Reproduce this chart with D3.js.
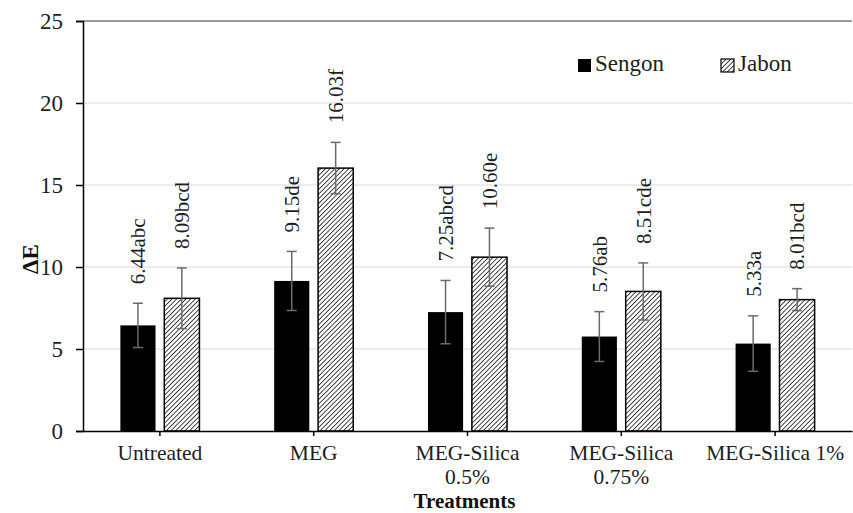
<!DOCTYPE html>
<html>
<head>
<meta charset="utf-8">
<script src="https://cdn.jsdelivr.net/npm/d3@7"></script>
<style>
  html, body { margin: 0; padding: 0; background: #fff; }
  svg { display: block; }
  svg text { font-family: "Liberation Serif", "Times New Roman", Times, serif; }
</style>
</head>
<body>
<svg id="chart" width="853" height="513" font-family="Liberation Serif, serif"></svg>
<script>
// Colour change (ΔE) by treatment for two wood species
const categories = ["Untreated", "MEG", "MEG-Silica 0.5%", "MEG-Silica 0.75%", "MEG-Silica 1%"];
const categoryLines = [["Untreated"], ["MEG"], ["MEG-Silica", "0.5%"], ["MEG-Silica", "0.75%"], ["MEG-Silica 1%"]];
const seriesNames = ["Sengon", "Jabon"];
const sengonValues = [6.44, 9.15, 7.25, 5.76, 5.33];
const jabonValues = [8.09, 16.03, 10.60, 8.51, 8.01];
const sengonErrors = [1.35, 1.80, 1.93, 1.52, 1.69];
const jabonErrors = [1.85, 1.57, 1.77, 1.74, 0.67];
const sengonLetters = ["abc", "de", "abcd", "ab", "a"];
const jabonLetters = ["bcd", "f", "e", "cde", "bcd"];
const yTicks = [0, 5, 10, 15, 20, 25];

const FONT = "Liberation Serif";
const svg = d3.select("#chart");
const plotLeft = 83, plotRight = 852, plotTop = 21, plotBottom = 431;

const rows = categories.map((c, i) => ({
  category: c,
  lines: categoryLines[i],
  bars: [
    { series: "Sengon", value: sengonValues[i], err: sengonErrors[i], letters: sengonLetters[i] },
    { series: "Jabon", value: jabonValues[i], err: jabonErrors[i], letters: jabonLetters[i] }
  ]
}));

const x0 = d3.scaleBand().domain(categories).range([plotLeft, plotRight])
  .paddingInner(0.486).paddingOuter(0.243);
const x1 = d3.scaleBand().domain(seriesNames).range([0, x0.bandwidth()]).paddingInner(0.2);
const y = d3.scaleLinear().domain([0, 25]).range([plotBottom, plotTop]);

// diagonal hatch for Jabon
const defs = svg.append("defs");
const pat = defs.append("pattern")
  .attr("id", "hatch").attr("patternUnits", "userSpaceOnUse")
  .attr("width", 3.3).attr("height", 3.3)
  .attr("patternTransform", "rotate(45)");
pat.append("rect").attr("width", 3.3).attr("height", 3.3).attr("fill", "#fff");
pat.append("line").attr("x1", 0).attr("y1", 0).attr("x2", 0).attr("y2", 3.3)
  .attr("stroke", "#262626").attr("stroke-width", 1.7);

const fillFor = s => s === "Sengon" ? "#000" : "url(#hatch)";

// gridlines
svg.append("g").selectAll("line")
  .data(yTicks.filter(t => t > 0 && t < 25))
  .join("line")
  .attr("x1", plotLeft).attr("x2", plotRight)
  .attr("y1", d => y(d)).attr("y2", d => y(d))
  .attr("stroke", "#d9d9d9").attr("stroke-width", 1);

// top border line
svg.append("line")
  .attr("x1", plotLeft).attr("x2", plotRight)
  .attr("y1", y(25)).attr("y2", y(25))
  .attr("stroke", "#3a3a3a").attr("stroke-width", 1.2);

// bars
const groups = svg.append("g").selectAll("g")
  .data(rows).join("g")
  .attr("transform", d => `translate(${x0(d.category)},0)`);

groups.selectAll("rect")
  .data(d => d.bars).join("rect")
  .attr("x", d => x1(d.series))
  .attr("y", d => y(d.value))
  .attr("width", x1.bandwidth())
  .attr("height", d => y(0) - y(d.value))
  .attr("fill", d => fillFor(d.series))
  .attr("stroke", "#000")
  .attr("stroke-width", d => d.series === "Jabon" ? 1.5 : 0);

// error bars
const eb = groups.selectAll("g.err")
  .data(d => d.bars).join("g").attr("class", "err")
  .attr("stroke", "#6b6b6b").attr("stroke-width", 1.5);
const cx = d => x1(d.series) + x1.bandwidth() / 2;
eb.append("line")
  .attr("x1", cx).attr("x2", cx)
  .attr("y1", d => y(d.value + d.err)).attr("y2", d => y(d.value - d.err));
eb.append("line")
  .attr("x1", d => cx(d) - 5).attr("x2", d => cx(d) + 5)
  .attr("y1", d => y(d.value + d.err)).attr("y2", d => y(d.value + d.err));
eb.append("line")
  .attr("x1", d => cx(d) - 5).attr("x2", d => cx(d) + 5)
  .attr("y1", d => y(d.value - d.err)).attr("y2", d => y(d.value - d.err));

// value labels with significance letters
groups.selectAll("text.val")
  .data(d => d.bars).join("text").attr("class", "val")
  .attr("transform", d => `translate(${cx(d)},${y(d.value + d.err) - 19}) rotate(-90)`)
  .attr("dy", "0.35em")
  .attr("text-anchor", "start")
  .attr("font-family", FONT)
  .attr("font-size", 21)
  .attr("fill", "#1e1e1e")
  .text(d => d.value.toFixed(2) + d.letters);

// y axis
const yAxis = svg.append("g")
  .attr("transform", `translate(${plotLeft},0)`)
  .call(d3.axisLeft(y).tickValues(yTicks).tickSize(7).tickPadding(13).tickFormat(d3.format("d")));
yAxis.attr("font-family", FONT);
yAxis.select(".domain").attr("stroke", "#000").attr("stroke-width", 1.5);
yAxis.selectAll(".tick line").attr("stroke", "#000").attr("stroke-width", 1.5);
yAxis.selectAll(".tick text")
  .attr("font-family", FONT)
  .attr("font-size", 23).attr("fill", "#1e1e1e");

// x axis
const xAxis = svg.append("g")
  .attr("transform", `translate(0,${plotBottom})`)
  .call(d3.axisBottom(x0).tickSize(5).tickSizeOuter(0).tickFormat(""));
xAxis.select(".domain").attr("stroke", "#000").attr("stroke-width", 1.5);
xAxis.selectAll(".tick line").attr("stroke", "#000").attr("stroke-width", 1.5);

// category labels (multi-line)
const catText = svg.append("g").selectAll("text")
  .data(rows).join("text")
  .attr("x", d => x0(d.category) + x0.bandwidth() / 2)
  .attr("y", 460)
  .attr("text-anchor", "middle")
  .attr("font-family", FONT)
  .attr("font-size", 21.5)
  .attr("fill", "#1e1e1e");
catText.selectAll("tspan")
  .data(d => d.lines.map(l => ({ l, x: x0(d.category) + x0.bandwidth() / 2 })))
  .join("tspan")
  .attr("x", t => t.x)
  .attr("dy", (t, i) => i === 0 ? 0 : 24)
  .text(t => t.l);

// axis titles
svg.append("text")
  .attr("x", (plotLeft + plotRight) / 2 - 3).attr("y", 507.5)
  .attr("text-anchor", "middle")
  .attr("font-family", FONT)
  .attr("font-size", 21).attr("font-weight", "bold").attr("fill", "#111")
  .text("Treatments");

svg.append("text")
  .attr("transform", `translate(38,259) rotate(-90)`)
  .attr("text-anchor", "middle")
  .attr("font-family", FONT)
  .attr("font-size", 23).attr("font-weight", "bold").attr("fill", "#111")
  .text("ΔE");

// legend
const legend = svg.append("g").selectAll("g")
  .data(seriesNames).join("g")
  .attr("transform", (d, i) => `translate(${578 + i * 143},59)`);
legend.append("rect")
  .attr("width", 13).attr("height", 13)
  .attr("fill", d => fillFor(d))
  .attr("stroke", "#000").attr("stroke-width", d => d === "Jabon" ? 1.2 : 0);
legend.append("text")
  .attr("x", 17).attr("y", 12)
  .attr("font-family", FONT)
  .attr("font-size", 23).attr("fill", "#1e1e1e")
  .text(d => d);
</script>
</body>
</html>
